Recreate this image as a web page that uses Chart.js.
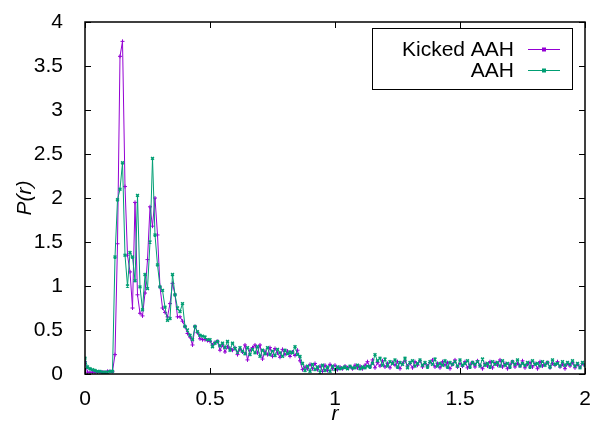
<!DOCTYPE html>
<html>
<head>
<meta charset="utf-8">
<script src="https://cdn.jsdelivr.net/npm/chart.js@4/dist/chart.umd.min.js"></script>
<style>
  html,body{margin:0;padding:0;background:#fff;}
  #wrap{width:595px;height:425px;}
</style>
</head>
<body>
<div id="wrap"><canvas id="c" width="595" height="425"></canvas></div>
<script>
// sample spacing in r
const rStep = 0.01;

// P(r), Kicked AAH (r = 0, 0.01, ..., 2.00)
const kickedAAH = [
  0.14,0.02,0.02,0.02,0.02,0.02,0.02,0.02,0.02,0.03,
  0.03,0.03,0.22,1.48,3.61,3.78,2.13,1.35,1.16,0.75,
  1.95,0.90,0.69,0.66,0.92,1.30,1.90,1.68,2.00,1.58,
  0.99,0.75,0.70,0.65,0.80,1.03,0.90,0.65,0.65,0.60,
  0.54,0.46,0.42,0.33,0.54,0.47,0.40,0.39,0.39,0.38,
  0.37,0.33,0.36,0.37,0.27,0.33,0.25,0.31,0.29,0.27,
  0.30,0.22,0.28,0.25,0.33,0.16,0.27,0.30,0.33,0.24,
  0.33,0.17,0.26,0.22,0.30,0.20,0.29,0.24,0.19,0.28,
  0.22,0.26,0.20,0.25,0.21,0.27,0.15,0.05,0.08,0.06,
  0.11,0.06,0.12,0.05,0.09,0.03,0.10,0.04,0.11,0.06,
  0.10,0.05,0.08,0.06,0.09,0.07,0.08,0.06,0.10,0.07,
  0.09,0.06,0.10,0.14,0.08,0.16,0.07,0.13,0.09,0.15,
  0.08,0.12,0.07,0.13,0.10,0.14,0.06,0.12,0.15,0.09,
  0.12,0.07,0.14,0.10,0.15,0.08,0.12,0.09,0.13,0.16,
  0.08,0.12,0.07,0.14,0.10,0.13,0.06,0.11,0.16,0.08,
  0.12,0.09,0.14,0.07,0.11,0.13,0.08,0.15,0.10,0.06,
  0.12,0.09,0.14,0.07,0.13,0.10,0.16,0.08,0.12,0.06,
  0.11,0.14,0.08,0.12,0.09,0.15,0.07,0.11,0.13,0.08,
  0.12,0.06,0.14,0.09,0.11,0.13,0.07,0.12,0.10,0.14,
  0.08,0.11,0.06,0.12,0.09,0.13,0.07,0.11,0.08,0.12,
  0.10
];

// P(r), AAH
const plainAAH = [
  0.18,0.08,0.06,0.05,0.04,0.03,0.03,0.02,0.02,0.02,
  0.03,0.03,1.33,1.98,2.10,2.40,1.35,1.00,1.38,1.33,
  1.06,2.03,0.99,0.73,1.13,0.97,1.50,2.45,1.58,1.24,
  0.99,0.95,0.76,0.61,0.63,1.13,0.90,0.75,0.71,0.80,
  0.54,0.50,0.44,0.39,0.54,0.48,0.44,0.43,0.42,0.39,
  0.39,0.31,0.35,0.37,0.32,0.35,0.30,0.37,0.27,0.35,
  0.29,0.25,0.30,0.26,0.23,0.30,0.22,0.28,0.24,0.31,
  0.20,0.27,0.23,0.30,0.22,0.26,0.21,0.28,0.24,0.20,
  0.27,0.23,0.25,0.24,0.31,0.22,0.20,0.12,0.04,0.09,
  0.03,0.11,0.05,0.08,0.02,0.10,0.04,0.08,0.03,0.09,
  0.05,0.08,0.06,0.07,0.08,0.06,0.09,0.07,0.07,0.10,
  0.06,0.08,0.07,0.09,0.08,0.12,0.22,0.15,0.18,0.10,
  0.17,0.09,0.14,0.12,0.16,0.08,0.13,0.11,0.18,0.07,
  0.13,0.15,0.09,0.12,0.16,0.10,0.13,0.08,0.14,0.11,
  0.17,0.09,0.12,0.10,0.15,0.08,0.13,0.11,0.14,0.09,
  0.16,0.10,0.12,0.15,0.08,0.13,0.11,0.14,0.09,0.17,
  0.10,0.12,0.08,0.14,0.11,0.13,0.09,0.15,0.10,0.12,
  0.08,0.14,0.11,0.16,0.09,0.12,0.10,0.13,0.08,0.15,
  0.11,0.12,0.09,0.14,0.10,0.13,0.08,0.16,0.11,0.12,
  0.09,0.14,0.10,0.13,0.11,0.15,0.09,0.12,0.07,0.13,
  0.10
];

const seriesNames = ['Kicked AAH', 'AAH'];
const seriesColors = ['#9400d3', '#009e73'];
const xTicks = [0, 0.5, 1, 1.5, 2];
const yTicks = [0, 0.5, 1, 1.5, 2, 2.5, 3, 3.5, 4];

const FONT = 'Liberation Sans, Arial, sans-serif';
const FS = 21;
const toXY = arr => arr.map((v,i)=>({x: +(i*rStep).toFixed(2), y: v}));

// gnuplot-style frame with inward ticks on all four sides
const framePlugin = {
  id: 'frame',
  afterDraw(chart){
    const {ctx, chartArea:a, scales:{x, y}} = chart;
    const tl = 6;
    ctx.save();
    ctx.strokeStyle = '#000';
    ctx.lineWidth = 1;
    ctx.beginPath();
    xTicks.forEach(v=>{
      const px = Math.round(x.getPixelForValue(v)) + 0.5;
      ctx.moveTo(px, a.bottom); ctx.lineTo(px, a.bottom - tl);
      ctx.moveTo(px, a.top); ctx.lineTo(px, a.top + tl);
    });
    yTicks.forEach(v=>{
      const py = Math.round(y.getPixelForValue(v)) + 0.5;
      ctx.moveTo(a.left, py); ctx.lineTo(a.left + tl, py);
      ctx.moveTo(a.right, py); ctx.lineTo(a.right - tl, py);
    });
    ctx.stroke();
    ctx.lineWidth = 1.5;
    ctx.strokeRect(a.left, a.top, a.right - a.left, a.bottom - a.top);

    // key box, text right aligned, sample line to the right
    const bx = 372.5, by = 28.5, bw = 200, bh = 61;
    ctx.lineWidth = 1;
    ctx.fillStyle = '#fff';
    ctx.fillRect(bx, by, bw, bh);
    ctx.strokeRect(bx, by, bw, bh);
    ctx.font = FS + 'px ' + FONT;
    ctx.textAlign = 'right';
    ctx.textBaseline = 'middle';
    seriesNames.forEach((name,i)=>{
      const ty = 49 + i*21;
      ctx.fillStyle = '#000';
      ctx.fillText(name, 514, ty + 1);
      ctx.strokeStyle = seriesColors[i];
      ctx.lineWidth = 1;
      ctx.beginPath();
      ctx.moveTo(528, ty + 0.5); ctx.lineTo(560, ty + 0.5);
      ctx.stroke();
      ctx.fillStyle = seriesColors[i];
      ctx.fillRect(542, ty - 1.5, 4, 4);
    });
    ctx.restore();
  }
};

new Chart(document.getElementById('c').getContext('2d'), {
  type: 'line',
  data: {
    datasets: [
      { label: seriesNames[0], data: toXY(kickedAAH), borderColor: seriesColors[0], backgroundColor: seriesColors[0],
        borderWidth: 1, pointStyle: 'cross', pointRadius: 2, pointBorderWidth: 1, tension: 0, order: 2 },
      { label: seriesNames[1], data: toXY(plainAAH), borderColor: seriesColors[1], backgroundColor: seriesColors[1],
        borderWidth: 1, pointStyle: 'crossRot', pointRadius: 2, pointBorderWidth: 1.5, tension: 0, order: 1 }
    ]
  },
  options: {
    responsive: false,
    devicePixelRatio: 1,
    animation: false,
    layout: { padding: { top: 22, right: 10, left: 0, bottom: 0 } },
    plugins: { legend: { display: false }, tooltip: { enabled: false } },
    scales: {
      x: {
        type: 'linear', min: 0, max: 2,
        afterFit: s => { s.height = 51; s.paddingLeft = 0; s.paddingRight = 0; },
        afterBuildTicks: s => { s.ticks = xTicks.map(v=>({value:v})); },
        grid: { display: false }, border: { display: false },
        ticks: { color: '#000', font: { family: FONT, size: FS }, padding: 5, maxRotation: 0, callback: v => String(v) },
        title: { display: true, text: 'r', color: '#000', font: { family: FONT, size: FS, style: 'italic' }, padding: { top: 0, bottom: -2 } }
      },
      y: {
        type: 'linear', min: 0, max: 4,
        afterFit: s => { s.width = 85; s.paddingTop = 0; s.paddingBottom = 0; },
        afterBuildTicks: s => { s.ticks = yTicks.map(v=>({value:v})); },
        grid: { display: false }, border: { display: false },
        ticks: { color: '#000', font: { family: FONT, size: FS }, padding: 14, callback: v => String(v) },
        title: { display: true, text: 'P(r)', color: '#000', font: { family: FONT, size: FS, style: 'italic' }, padding: { top: 13, bottom: 0 } }
      }
    }
  },
  plugins: [framePlugin]
});
</script>
</body>
</html>
